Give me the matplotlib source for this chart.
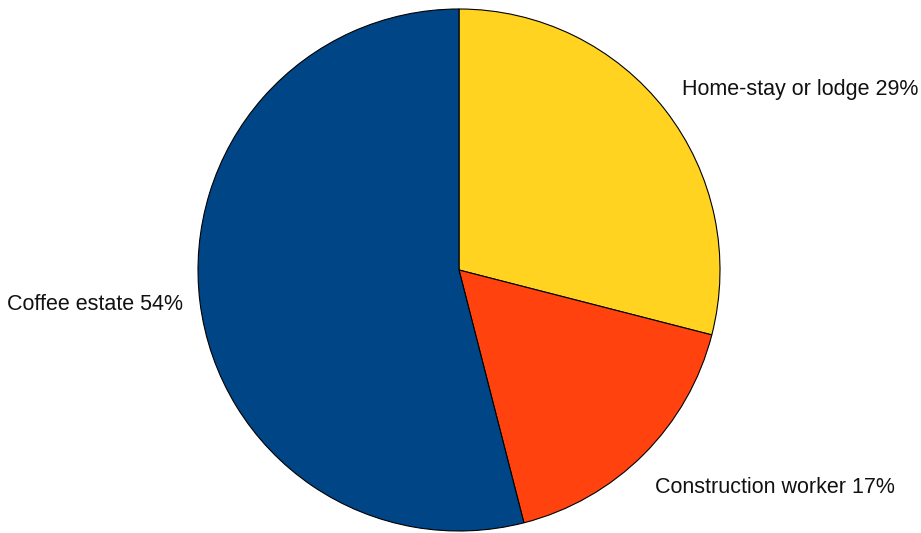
import matplotlib
matplotlib.use("Agg")
import matplotlib.pyplot as plt

plt.rcParams['font.family'] = ['Liberation Sans', 'DejaVu Sans']

categories = ['Home-stay or lodge', 'Construction worker', 'Coffee estate']
shares = [29, 17, 54]
colors = ['#FFD320', '#FF420E', '#004586']

# label anchor positions (data units, pie radius = 1) and alignment
label_pos = [(0.854, 0.69, 'left'), (0.75, -0.835, 'left'), (-1.057, -0.134, 'right')]

fig = plt.figure(figsize=(9.21, 5.33), dpi=100)
W, H = 921, 533
cx, cy, r = 459, 270, 261
ax = fig.add_axes([(cx - r) / W, (H - cy - r) / H, 2 * r / W, 2 * r / H])

ax.pie(shares, colors=colors, startangle=90, counterclock=False, radius=1,
       wedgeprops=dict(edgecolor='black', linewidth=0.8))
ax.set_xlim(-1, 1)
ax.set_ylim(-1, 1)
ax.set_aspect('auto')
ax.axis('off')

for name, val, (x, y, ha) in zip(categories, shares, label_pos):
    ax.text(x, y, f'{name} {val}%', ha=ha, va='center', fontsize=15.5,
            color='#111111', clip_on=False)

fig.savefig('out.png', dpi=100)
